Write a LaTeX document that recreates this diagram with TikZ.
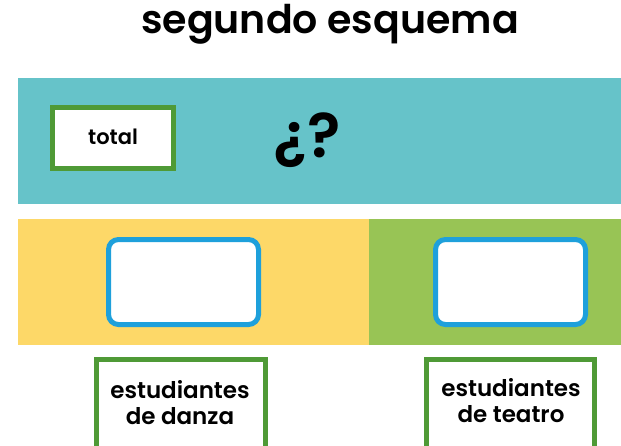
\documentclass[tikz,border=0pt]{standalone}
\usepackage{fontspec}
\setmainfont{Poppins}[BoldFont=* SemiBold]
\definecolor{teal1}{HTML}{66C3C9}
\definecolor{yel1}{HTML}{FDD868}
\definecolor{grn1}{HTML}{98C455}
\definecolor{grnb}{HTML}{4F9A36}
\definecolor{blu1}{HTML}{1EA0DB}
\begin{document}
\begin{tikzpicture}[x=1pt,y=-1pt,
  band/.style={fill=#1, draw=none},
  labbox/.style={draw=grnb, line width=5pt, fill=white},
  ansbox/.style={draw=blu1, line width=5pt, fill=white, rounded corners=10pt},
  lab/.style={font=\bfseries\fontsize{23}{26}\selectfont, align=center, text=black}]
\useasboundingbox (0,0) rectangle (621,445);
\clip (0,0) rectangle (621,445);
\node[font=\bfseries\fontsize{39.5}{44}\selectfont] (title) at (330,24) {segundo esquema};
\path[band=teal1] (18,78) rectangle (621,204);
\path[band=yel1] (18,219) rectangle (369,345);
\path[band=grn1] (369,219) rectangle (621,345);
\draw[labbox] (52.5,107.5) rectangle (173.5,168.5);
\node[lab, font=\bfseries\fontsize{21}{24}\selectfont] (total) at (113,137) {total};
\node[font=\bfseries\fontsize{62}{70}\selectfont] (q) at (307,140) {¿?};
\draw[ansbox] (108.5,239.5) rectangle (258.5,324.5);
\draw[ansbox] (435.5,239.5) rectangle (585.5,324.5);
\draw[labbox] (96.5,359.5) rectangle (265.5,460);
\draw[labbox] (426.5,359.5) rectangle (594.5,460);
\node[lab] (danza) at (180,403) {estudiantes\\de danza};
\node[lab] (teatro) at (511,401) {estudiantes\\de teatro};
\end{tikzpicture}
\end{document}
